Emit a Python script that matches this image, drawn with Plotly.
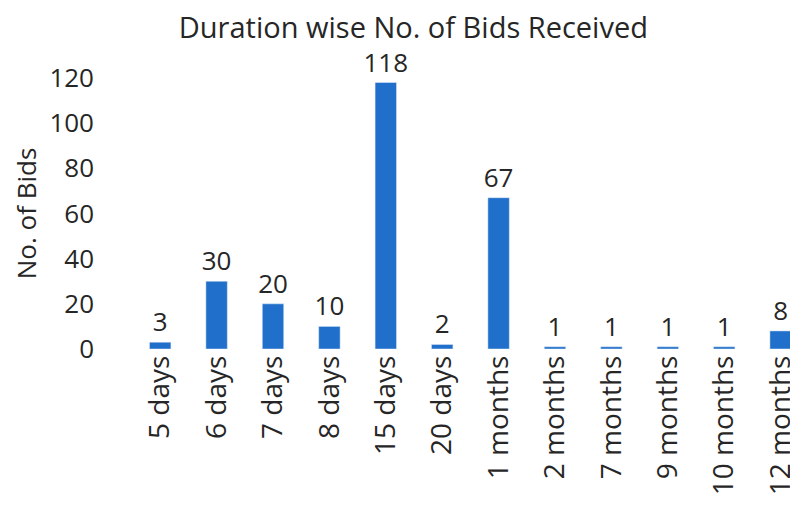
import plotly.graph_objects as go

durations = ['5 days', '6 days', '7 days', '8 days', '15 days', '20 days',
             '1 months', '2 months', '7 months', '9 months', '10 months', '12 months']
bids = [3, 30, 20, 10, 118, 2, 67, 1, 1, 1, 1, 8]

fnt = 'Open Sans, sans-serif'
ink = '#262626'

fig = go.Figure(go.Bar(
    x=durations, y=bids,
    marker_color='#1f6fcb',
    width=0.38,
    text=bids, textposition='outside',
    constraintext='none',
    textfont=dict(size=26, color=ink, family=fnt),
    cliponaxis=False,
))

fig.update_layout(
    width=798, height=512,
    margin=dict(l=124, r=0, t=70, b=171),
    plot_bgcolor='white', paper_bgcolor='white',
    title=dict(text='Duration wise No. of Bids Received', x=0.508, y=0.962,
               xanchor='center', yanchor='middle',
               font=dict(size=29, color=ink, family=fnt)),
    showlegend=False,
)
fig.update_xaxes(tickangle=-90, tickfont=dict(size=28, color=ink, family=fnt),
                 range=[-0.5, 11.45], showline=False, ticks='', automargin=False)
fig.update_yaxes(range=[0, 120], dtick=20, showgrid=False, zeroline=False,
                 ticklabelstandoff=37, automargin=False,
                 tickfont=dict(size=26, color=ink, family=fnt),
                 title=dict(text='No. of Bids', font=dict(size=26, color=ink, family=fnt),
                            standoff=10))

fig.write_html("out.html")
